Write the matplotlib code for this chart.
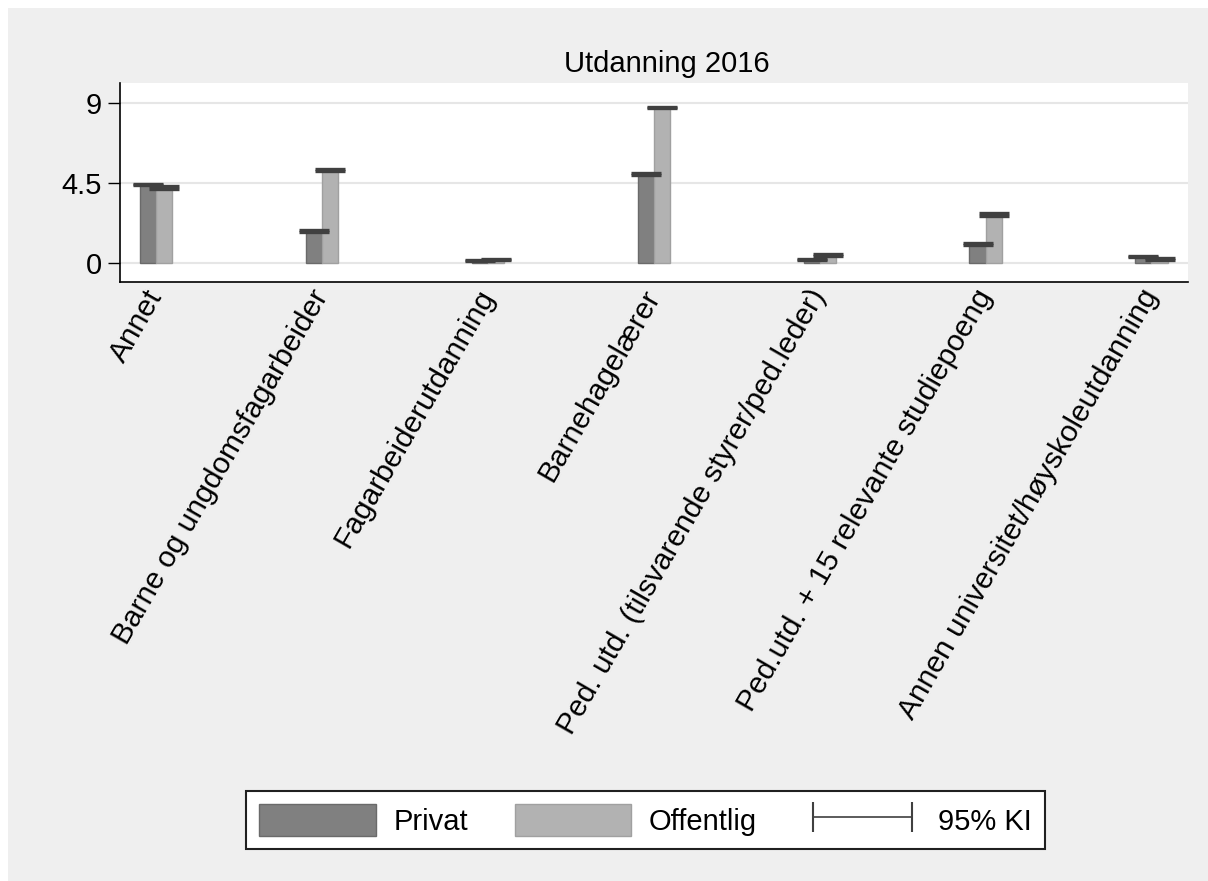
import numpy as np
import matplotlib
matplotlib.use("Agg")
import matplotlib.pyplot as plt
from matplotlib.patches import Patch, Rectangle
from matplotlib.lines import Line2D

plt.rcParams["font.family"] = ["Liberation Sans", "DejaVu Sans"]

categories = [
    "Annet",
    "Barne og ungdomsfagarbeider",
    "Fagarbeiderutdanning",
    "Barnehagelærer",
    "Ped. utd. (tilsvarende styrer/ped.leder)",
    "Ped.utd. + 15 relevante studiepoeng",
    "Annen universitet/høyskoleutdanning",
]
privat = [4.38, 1.80, 0.15, 4.97, 0.20, 1.07, 0.36]
privat_lo = [4.35, 1.76, 0.13, 4.92, 0.17, 1.02, 0.32]
privat_hi = [4.41, 1.84, 0.19, 5.03, 0.24, 1.12, 0.40]
offentlig = [4.22, 5.22, 0.18, 8.72, 0.44, 2.72, 0.22]
offentlig_lo = [4.16, 5.18, 0.16, 8.68, 0.40, 2.66, 0.19]
offentlig_hi = [4.32, 5.26, 0.22, 8.78, 0.49, 2.78, 0.26]
yticks = [0, 4.5, 9]
ytick_labels = ["0", "4.5", "9"]

W, H = 1208, 881
fig = plt.figure(figsize=(W / 100, H / 100), dpi=100, facecolor="#efefef")
# thin white strip at top and left (page margin around the Stata graph)
fig.patches.append(Rectangle((0, 0), 8 / W, 1, transform=fig.transFigure,
                             facecolor="white", edgecolor="none", zorder=-10))
fig.patches.append(Rectangle((0, 1 - 8 / H), 1, 8 / H, transform=fig.transFigure,
                             facecolor="white", edgecolor="none", zorder=-10))

ax = fig.add_axes([120 / W, 1 - 282 / H, (1188 - 120) / W, (282 - 83) / H])
ax.set_facecolor("white")

x = np.arange(len(categories))
bw = 0.097
p = np.array(privat)
o = np.array(offentlig)
ax.bar(x - bw / 2, p, bw, color="#808080", edgecolor="#6a6a6a", lw=1, zorder=3)
ax.bar(x + bw / 2, o, bw, color="#b2b2b2", edgecolor="#a0a0a0", lw=1, zorder=3)
ax.errorbar(x - bw / 2, p, yerr=[p - np.array(privat_lo), np.array(privat_hi) - p],
            fmt="none", ecolor="#404040", elinewidth=1, capsize=10.5, capthick=2.4, zorder=4)
ax.errorbar(x + bw / 2, o, yerr=[o - np.array(offentlig_lo), np.array(offentlig_hi) - o],
            fmt="none", ecolor="#404040", elinewidth=1, capsize=10.5, capthick=2.4, zorder=4)

ax.set_xlim(-0.217, 6.22)
ax.set_ylim(-1.07, 10.1)
ax.set_yticks(yticks)
ax.set_yticklabels(ytick_labels)
for yv in yticks:
    ax.axhline(yv, color="#e6e6e6", lw=1.5, zorder=1)

ax.set_xticks(x)
ax.set_xticklabels(categories, rotation=60, ha="right", va="center",
                   rotation_mode="anchor")
ax.tick_params(axis="x", length=0, pad=7, labelsize=21.5)
ax.tick_params(axis="y", length=9, width=1, pad=4, labelsize=21)
for s in ["top", "right"]:
    ax.spines[s].set_visible(False)
ax.spines["left"].set_linewidth(1.2)
ax.spines["bottom"].set_linewidth(1.2)

ax.set_title("Utdanning 2016", fontsize=21, pad=8, x=(667 - 120) / (1188 - 120))

handles = [
    Patch(facecolor="#808080", edgecolor="#6a6a6a", label="Privat"),
    Patch(facecolor="#b2b2b2", edgecolor="#a0a0a0", label="Offentlig"),
    Line2D([], [], color="#404040", lw=1.2, marker="|", markersize=22,
           markeredgewidth=1.5, label="95% KI"),
]
leg = fig.legend(handles=handles, loc="center", ncol=3,
                 bbox_to_anchor=(645.5 / W, 1 - 820 / H), fontsize=21,
                 frameon=True, fancybox=False, numpoints=2,
                 handlelength=4.0, handleheight=1.3, handletextpad=0.6,
                 columnspacing=1.6, borderpad=0.45)
leg.get_frame().set_edgecolor("#202020")
leg.get_frame().set_linewidth(1.5)
leg.get_frame().set_facecolor("white")
leg.get_frame().set_alpha(1)

fig.savefig("out.png", dpi=100, facecolor=fig.get_facecolor())
